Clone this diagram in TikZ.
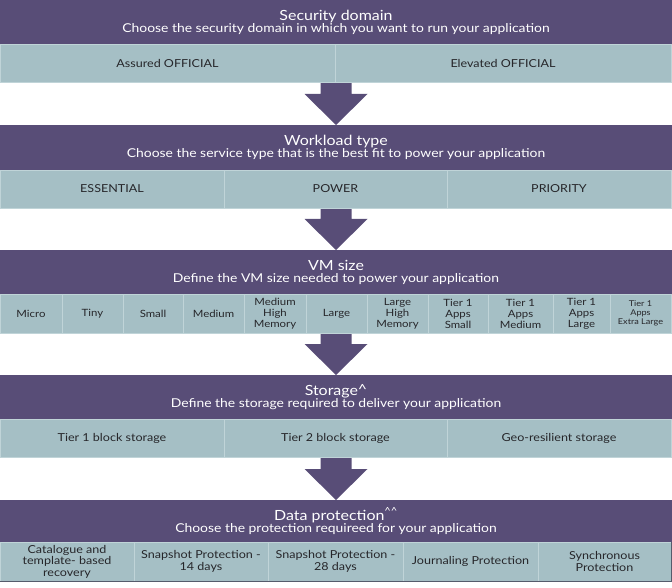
\documentclass[tikz,border=0pt]{standalone}
\usepackage{fontspec}
\setmainfont{Lato}[FakeStretch=1.14]
\usepackage{tikz}
\usetikzlibrary{positioning}

\definecolor{hdpurple}{RGB}{88,77,119}
\definecolor{cellblue}{RGB}{165,191,197}
\definecolor{celledge}{RGB}{192,212,216}
\definecolor{celltext}{RGB}{38,38,42}
\definecolor{rowshade}{RGB}{84,92,108}

\newcommand{\hdtitle}{\fontsize{14}{16}\selectfont}
\newcommand{\hdsub}{\fontsize{12.2}{13.5}\selectfont}

\tikzset{
  header/.style={fill=hdpurple, text=white, minimum width=672, inner sep=0pt,
    outer sep=0pt, align=center, anchor=north},
  cell/.style={fill=cellblue, draw=celledge, line width=0.8pt, text=celltext,
    inner sep=0pt, outer sep=0pt, align=center, anchor=north west,
    font=\fontsize{11}{11.5}\selectfont},
  smallcell/.style={cell, font=\fontsize{10}{11}\selectfont},
  flowarrow/.style={fill=hdpurple, draw=none},
  rowshadow/.style={draw=rowshade, line width=1pt},
}

\begin{document}
\begin{tikzpicture}[x=1pt, y=-1pt]
\useasboundingbox (0,0) rectangle (672,588);

% stage headers
\node[header, minimum height=44] (sec) at (336,0)
  {{\hdtitle Security domain}\\[0pt]{\hdsub Choose the security domain in which you want to run your application}};
\node[header, minimum height=45] (work) at (336,125)
  {{\hdtitle Workload type}\\[0pt]{\hdsub Choose the service type that is the best fit to power your application}};
\node[header, minimum height=44] (vm) at (336,250)
  {{\hdtitle VM size}\\[0pt]{\hdsub Define the VM size needed to power your application}};
\node[header, minimum height=44] (store) at (336,375)
  {{\hdtitle Storage\raisebox{1.5pt}{\textasciicircum}}\\[0pt]{\hdsub Define the storage required to deliver your application}};
\node[header, minimum height=42] (prot) at (336,500)
  {{\hdtitle Data protection\textsuperscript{\textasciicircum\textasciicircum}}\\[0pt]{\hdsub Choose the protection requireed for your application}};

% arrows into each stage
\foreach \h in {work,vm,store,prot}
  \fill[flowarrow] (\h.north) -- ++(-31.5,-31) -- ++(16,0) -- ++(0,-12)
    -- ++(31,0) -- ++(0,12) -- ++(16,0) -- cycle;

% option rows
\foreach \x/\w/\t [count=\i] in {0/335/Assured OFFICIAL, 335/336/Elevated OFFICIAL}
  \node[cell, minimum width=\w, minimum height=38] (sec-\i) at (\x,44) {\t};

\foreach \x/\w/\t [count=\i] in {0/224/ESSENTIAL, 224/223/POWER, 447/224/PRIORITY}
  \node[cell, minimum width=\w, minimum height=38] (work-\i) at (\x,170) {\t};

\foreach \x/\w/\t [count=\i] in {0/62/Micro, 62/61/Tiny, 123/60/Small, 183/61/Medium,
    244/62/{Medium\\High\\Memory}, 306/61/Large, 367/61/{Large\\High\\Memory},
    428/60/{Tier 1\\Apps\\Small}, 488/65/{Tier 1\\Apps\\Medium}, 553/57/{Tier 1\\Apps\\Large}}
  \node[smallcell, minimum width=\w, minimum height=39] (vm-\i) at (\x,294) {\t};
\node[smallcell, minimum width=61, minimum height=39, font=\fontsize{8}{9}\selectfont]
  (vm-11) at (610,294) {Tier 1\\Apps\\Extra Large};

\foreach \x/\w/\t [count=\i] in {0/224/Tier 1 block storage, 224/223/Tier 2 block storage,
    447/224/Geo-resilient storage}
  \node[cell, minimum width=\w, minimum height=38] (store-\i) at (\x,419) {\t};

\foreach \x/\w/\t [count=\i] in {0/134/{Catalogue and\\template- based\\recovery},
    134/134/{Snapshot Protection -\\14 days}, 268/135/{Snapshot Protection -\\28 days},
    403/135/Journaling Protection, 538/133/{Synchronous\\Protection}}
  \node[cell, minimum width=\w, minimum height=39] (prot-\i) at (\x,542) {\t};
\draw[rowshadow] (prot-1.south west) -- (prot-5.south east) -- (prot-5.north east);
\end{tikzpicture}
\end{document}
